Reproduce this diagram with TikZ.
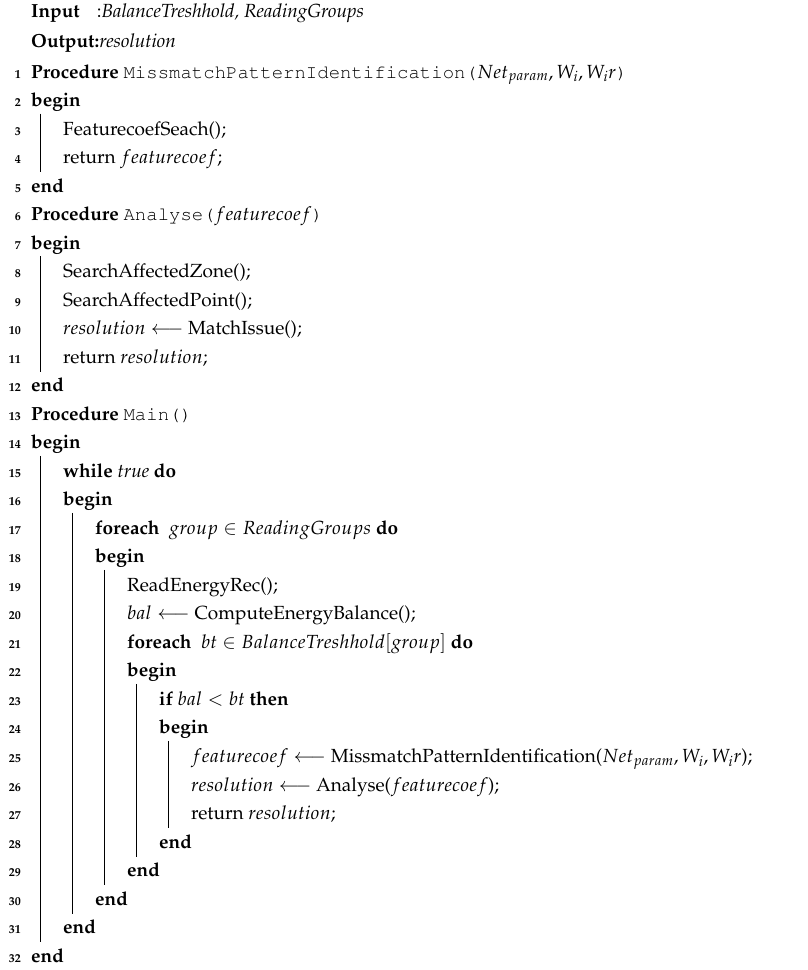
\documentclass[tikz,border=0pt]{standalone}
\usepackage[T1]{fontenc}
\usepackage{mathpazo}
\renewcommand{\ttdefault}{pcr}
\begin{document}
\begin{tikzpicture}[x=1pt,y=-1pt,
  txt/.style={anchor=base west,inner sep=0pt,font=\fontsize{19}{22}\selectfont},
  num/.style={anchor=base east,inner sep=0pt,font=\fontsize{12}{14}\selectfont\bfseries},
  bar/.style={line width=0.8pt}]
\useasboundingbox (0,0) rectangle (808,970);
\newcommand{\Yof}[1]{78+(#1-1)*28.52}
\newcommand{\Ln}[3]{%
  \node[num] (n#1) at (21,{\Yof{#1}}) {#1};
  \node[txt] (l#1) at ({31+32*#2},{\Yof{#1}}) {#3};}
\newcommand{\Bar}[3]{\draw[bar] ({40+32*(#1-1)},{\Yof{#2}+7}) -- ({40+32*(#1-1)},{\Yof{#3}-20});}
\node[txt] (inp) at (31,17) {\textbf{Input}\hspace{0.9em}:\textit{BalanceTreshhold, ReadingGroups}};
\node[txt] (outp) at (31,47) {\textbf{Output:}\textit{resolution}};
\Ln{1}{0}{\textbf{Procedure} \texttt{MissmatchPatternIdentification(}$Net_{param}, W_i, W_ir$\texttt{)}}
\Ln{2}{0}{\textbf{begin}}
\Ln{3}{1}{FeaturecoefSeach();}
\Ln{4}{1}{return $featurecoef$;}
\Ln{5}{0}{\textbf{end}}
\Ln{6}{0}{\textbf{Procedure} \texttt{Analyse(}$featurecoef$\texttt{)}}
\Ln{7}{0}{\textbf{begin}}
\Ln{8}{1}{SearchAffectedZone();}
\Ln{9}{1}{SearchAffectedPoint();}
\Ln{10}{1}{$resolution \longleftarrow$ MatchIssue();}
\Ln{11}{1}{return $resolution$;}
\Ln{12}{0}{\textbf{end}}
\Ln{13}{0}{\textbf{Procedure} \texttt{Main()}}
\Ln{14}{0}{\textbf{begin}}
\Ln{15}{1}{\textbf{while} \textit{true} \textbf{do}}
\Ln{16}{1}{\textbf{begin}}
\Ln{17}{2}{\textbf{foreach} \ $group \in ReadingGroups$ \textbf{do}}
\Ln{18}{2}{\textbf{begin}}
\Ln{19}{3}{ReadEnergyRec();}
\Ln{20}{3}{$bal \longleftarrow$ ComputeEnergyBalance();}
\Ln{21}{3}{\textbf{foreach} \ $bt \in BalanceTreshhold[group]$ \textbf{do}}
\Ln{22}{3}{\textbf{begin}}
\Ln{23}{4}{\textbf{if} $bal < bt$ \textbf{then}}
\Ln{24}{4}{\textbf{begin}}
\Ln{25}{5}{$featurecoef \longleftarrow$ MissmatchPatternIdentification($Net_{param}, W_i, W_ir$);}
\Ln{26}{5}{$resolution \longleftarrow$ Analyse($featurecoef$);}
\Ln{27}{5}{return $resolution$;}
\Ln{28}{4}{\textbf{end}}
\Ln{29}{3}{\textbf{end}}
\Ln{30}{2}{\textbf{end}}
\Ln{31}{1}{\textbf{end}}
\Ln{32}{0}{\textbf{end}}
\Bar{1}{2}{5}
\Bar{1}{7}{12}
\Bar{1}{14}{32}
\Bar{2}{16}{31}
\Bar{3}{18}{30}
\Bar{4}{22}{29}
\Bar{5}{24}{28}
\end{tikzpicture}
\end{document}
